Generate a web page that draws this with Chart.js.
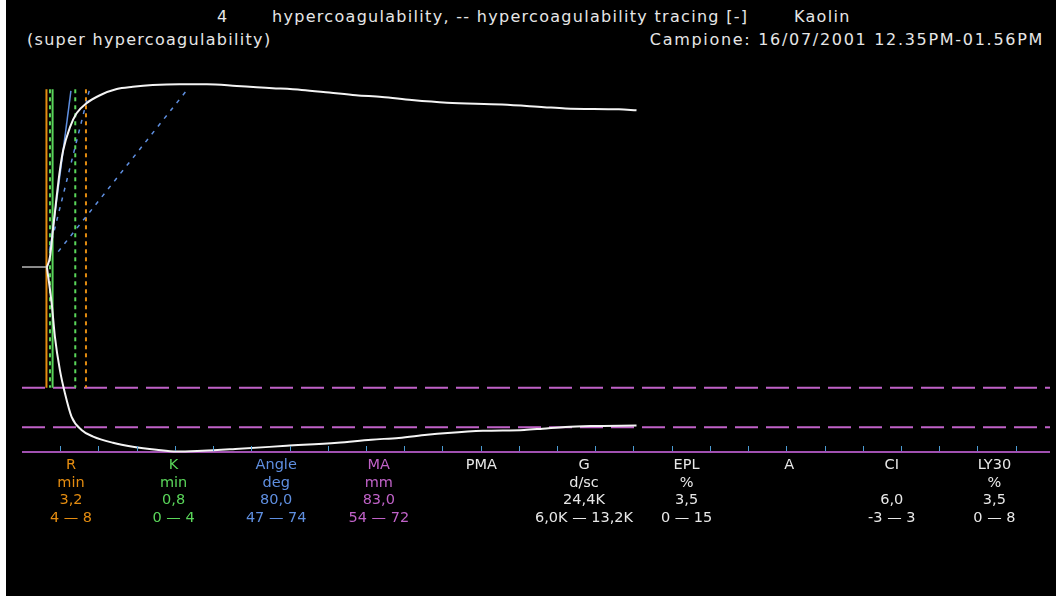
<!DOCTYPE html>
<html>
<head>
<meta charset="utf-8">
<script src="https://cdn.jsdelivr.net/npm/chart.js@4.4.1/dist/chart.umd.min.js"></script>
<style>
    html, body { margin: 0; padding: 0; background: #fff; width: 1056px; height: 596px; overflow: hidden; }
    #screen { position: absolute; left: 6px; top: 0; width: 1050px; height: 596px; background: #000; }
    #trace { position: absolute; left: 0; top: 0; }
    .txt { position: absolute; font-family: "DejaVu Sans", Verdana, sans-serif; font-size: 16px; letter-spacing: 1.3px;
           line-height: 18px; color: #e6e6e6; white-space: pre; }
    .col { position: absolute; top: 456px; width: 120px; margin-left: -60px; text-align: center;
           font-family: "DejaVu Sans", Verdana, sans-serif; font-size: 14.5px; line-height: 17.5px; white-space: pre; }
</style>
</head>
<body>
<div id="screen"></div>
<div class="txt" style="left:217px; top:8px;">4</div>
<div class="txt" style="left:272px; top:8px;">hypercoagulability, -- hypercoagulability tracing [-]</div>
<div class="txt" style="left:794px; top:8px;">Kaolin</div>
<div class="txt" style="left:27px; top:31px;">(super hypercoagulability)</div>
<div class="txt" style="right:12px; top:31px; letter-spacing:1.7px;">Campione: 16/07/2001 12.35PM-01.56PM</div>
<canvas id="trace" width="1056" height="596"></canvas>
<div id="table"></div>
<script>
// tracing, time in minutes, amplitude in mm from the centre line
const baseTime = [0, 3.26];
const baseAmp = [0, 0];
const upperTime = [3.26, 3.66, 4.09, 4.53, 4.96, 5.39, 6.27, 7.14, 8.45, 10.2, 12.4, 14.5, 17.1, 20.6, 24.2,
    28.1, 30.7, 32.8, 36.6, 40.2, 43.7, 47.1, 51.0, 55.6, 62.8, 68.3, 71.1, 78.1, 80.4];
const upperAmp = [0, 2.3, 9.1, 15.9, 22.0, 26.5, 31.7, 34.9, 37.2, 39.0, 40.4, 40.9, 41.3, 41.5, 41.5,
    41.1, 40.8, 40.6, 40.2, 39.6, 39.0, 38.6, 37.9, 37.3, 36.9, 36.3, 36.0, 35.8, 35.6];
const lowerTime = [3.26, 3.88, 4.31, 4.96, 5.61, 6.49, 7.79, 9.31, 11.9, 14.5, 17.6, 20.2, 23.6, 27.9,
    34.6, 41.3, 45.7, 49.3, 53.0, 55.7, 60.3, 65.7, 68.1, 71.1, 74.4, 80.4];
const lowerAmp = [0, -8.2, -15.9, -23.4, -28.6, -34.0, -37.0, -38.5, -39.9, -40.8, -41.5, -41.9, -41.7, -41.3,
    -40.6, -39.9, -39.2, -38.8, -38.1, -37.7, -37.2, -37.0, -36.7, -36.3, -36.1, -36.0];

// R / K markers (minutes) and their top/bottom amplitude
const markerTimes = [3.2, 3.66, 4.0, 6.97, 8.37];
const markerTop = 40.35;
const markerBottom = -27.4;

// angle lines: [start time, start amp, end time, end amp]
const angleLines = [[3.66, 3.5, 6.4, 40.0], [3.59, 3.9, 8.79, 40.0], [4.74, 3.5, 21.5, 40.0]];

// MA normal range (half amplitude) and axis
const maRangeLevels = [-27.4, -36.4];
const axisLevel = -42;
const timeMax = 134.5;
const tickMinutes = [5, 10, 15, 20, 25, 30, 35, 40, 45, 50, 55, 60, 65, 70, 75, 80, 85, 90, 95, 100,
    105, 110, 115, 120, 125, 130];

// parameter table
const paramNames = ['R', 'K', 'Angle', 'MA', 'PMA', 'G', 'EPL', 'A', 'CI', 'LY30'];
const paramUnits = ['min', 'min', 'deg', 'mm', '', 'd/sc', '%', '', '', '%'];
const paramValues = ['3,2', '0,8', '80,0', '83,0', '', '24,4K', '3,5', '', '6,0', '3,5'];
const paramRanges = ['4 \u2014 8', '0 \u2014 4', '47 \u2014 74', '54 \u2014 72', '', '6,0K \u2014 13,2K', '0 \u2014 15', '', '-3 \u2014 3', '0 \u2014 8'];

const ORANGE = '#e48c10';
const GREEN = '#5ad65a';
const BLUE = '#5f8fe0';
const MAGENTA = '#c062c8';
const WHITE = '#e8e8e8';
const paramColors = [ORANGE, GREEN, BLUE, MAGENTA, WHITE, WHITE, WHITE, WHITE, WHITE, WHITE];

function line(xs, ys, color, width, dash) {
    return {
        data: xs.map((x, i) => ({ x: x, y: ys[i] })),
        borderColor: color,
        borderWidth: width,
        borderDash: dash || [],
        pointRadius: 0,
        tension: 0,
        clip: false
    };
}

const tickMarks = {
    id: 'tickMarks',
    afterDatasetsDraw(chart) {
        const xs = chart.scales.x;
        const base = chart.scales.y.getPixelForValue(axisLevel);
        const ctx = chart.ctx;
        ctx.save();
        ctx.strokeStyle = '#4b9bd2';
        ctx.lineWidth = 1;
        tickMinutes.forEach(t => {
            const px = Math.round(xs.getPixelForValue(t)) + 0.5;
            ctx.beginPath();
            ctx.moveTo(px, base - 1);
            ctx.lineTo(px, base - 6);
            ctx.stroke();
        });
        ctx.restore();
    }
};

document.addEventListener("DOMContentLoaded", () => {
    const datasets = [];
    // the tracing on top
    const upper = line(upperTime, upperAmp, '#f4f4f4', 2);
    const lower = line(lowerTime, lowerAmp, '#f4f4f4', 2);
    upper.cubicInterpolationMode = 'monotone';
    lower.cubicInterpolationMode = 'monotone';
    datasets.push(upper, lower, line(baseTime, baseAmp, '#b8b8b8', 1.5));

    // angle lines
    angleLines.forEach((l, i) => {
        datasets.push(line([l[0], l[2]], [l[1], l[3]], BLUE, 1.5, i == 0 ? [] : [4, 6]));
    });

    // R and K markers
    const markerColors = [ORANGE, GREEN, GREEN, GREEN, ORANGE];
    const markerDash = [[], [4, 4], [], [4, 4], [4, 4]];
    markerTimes.forEach((t, i) => {
        datasets.push(line([t, t], [markerTop, markerBottom], markerColors[i], 2, markerDash[i]));
    });

    // MA range and axis
    maRangeLevels.forEach(lv => {
        datasets.push(line([0, timeMax], [lv, lv], MAGENTA, 2, [23, 8]));
    });
    datasets.push(line([0, timeMax], [axisLevel, axisLevel], '#a050b0', 2));

    new Chart(document.getElementById('trace').getContext('2d'), {
        type: 'line',
        data: { datasets: datasets },
        options: {
            responsive: false,
            animation: false,
            layout: { padding: { left: 22, right: 6, top: 60, bottom: 144 } },
            plugins: { legend: { display: false }, tooltip: { enabled: false } },
            scales: {
                x: { type: 'linear', min: 0, max: timeMax, display: false },
                y: { type: 'linear', min: axisLevel, max: 47, display: false }
            }
        },
        plugins: [tickMarks]
    });

    // parameter table below the axis
    const table = document.getElementById('table');
    paramNames.forEach((name, i) => {
        const col = document.createElement('div');
        col.className = 'col';
        col.style.left = (71 + i * 102.6) + 'px';
        col.style.color = paramColors[i];
        col.textContent = [name, paramUnits[i], paramValues[i], paramRanges[i]].join('\n');
        table.appendChild(col);
    });
});
</script>
</body>
</html>
